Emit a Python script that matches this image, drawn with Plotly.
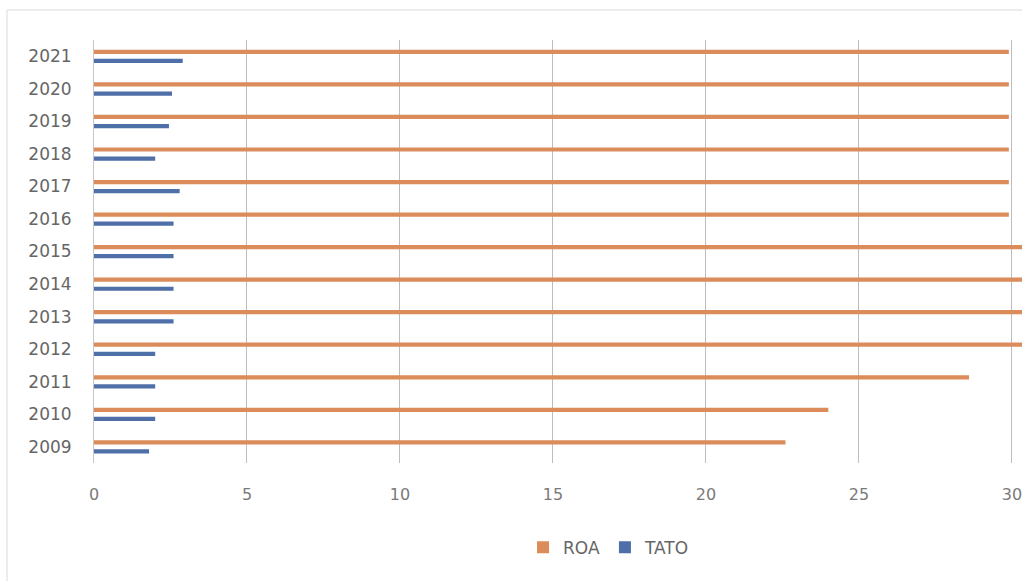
import plotly.graph_objects as go

years = ["2009", "2010", "2011", "2012", "2013", "2014", "2015",
         "2016", "2017", "2018", "2019", "2020", "2021"]
roa = [22.6, 24.0, 28.6, 31.0, 31.0, 31.0, 31.0, 29.9, 29.9, 29.9, 29.9, 29.9, 29.9]
tato = [1.8, 2.0, 2.0, 2.0, 2.6, 2.6, 2.6, 2.6, 2.8, 2.0, 2.45, 2.55, 2.9]
x_ticks = [0, 5, 10, 15, 20, 25, 30]

FONT = "DejaVu Sans"

fig = go.Figure()
fig.add_trace(go.Bar(
    y=years, x=roa, name="ROA", orientation="h",
    marker=dict(color="#DB8C5A", line=dict(width=0)),
    width=0.13, offset=0.07,
))
fig.add_trace(go.Bar(
    y=years, x=tato, name="TATO", orientation="h",
    marker=dict(color="#4E6FA8", line=dict(width=0)),
    width=0.13, offset=-0.21,
))

fig.update_layout(
    width=1022, height=581,
    margin=dict(l=94, r=0, t=40, b=118, autoexpand=False),
    paper_bgcolor="white", plot_bgcolor="white",
    barmode="overlay",
    font=dict(family=FONT, size=16, color="#666666"),
    showlegend=True,
    legend=dict(orientation="h", x=0.555, xanchor="center", y=-0.2, yanchor="middle",
                font=dict(size=17, color="#666666"), itemwidth=30,
                traceorder="normal"),
    xaxis=dict(range=[0, 30.33], tickvals=x_ticks, ticktext=[str(v) for v in x_ticks],
               showgrid=True, gridcolor="#BDBDBD", gridwidth=1,
               zeroline=False, showline=False, ticks="",
               ticklabeloverflow="allow",
               tickfont=dict(size=16, color="#7A7A7A"), ticklabelstandoff=20),
    yaxis=dict(type="category", categoryorder="array", categoryarray=years,
               showgrid=False, zeroline=False, showline=True, linecolor="#C6C6C6",
               linewidth=1, ticks="", tickfont=dict(size=17, color="#666666"),
               ticklabelstandoff=18),
    shapes=[dict(type="rect", xref="paper", yref="paper",
                 x0=(7 - 94) / 928, x1=1.2, y0=-0.6, y1=(463 - 10) / 423,
                 line=dict(color="#D9D9D9", width=1), fillcolor="rgba(0,0,0,0)",
                 layer="below")],
)

fig.write_html("out.html")
